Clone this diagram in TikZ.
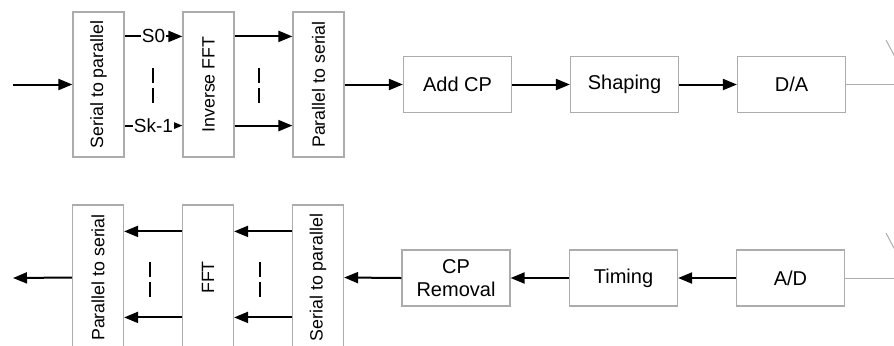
\documentclass[tikz,border=0pt]{standalone}
\usepackage{fontspec}
\setmainfont{Liberation Sans}
\usepackage{tikz}
\usetikzlibrary{arrows.meta, positioning}

\begin{document}
\begin{tikzpicture}[x=0.5pt, y=-0.5pt,
    block/.style={draw=gray!65, line width=0.6pt, minimum width=54pt, minimum height=28pt,
        align=center, inner sep=1pt, font=\fontsize{10}{11.5}\selectfont},
    vblock/.style={draw=gray!65, line width=0.6pt, minimum width=25.5pt, minimum height=72.5pt,
        inner sep=0pt, font=\fontsize{8.9}{10}\selectfont},
    sig/.style={-{Triangle[length=7pt, width=5.5pt]}, line width=1pt},
    wire/.style={gray!65, line width=0.5pt},
    gap/.style={line width=1.1pt, dash pattern=on 7.5pt off 2.5pt},
    tag/.style={fill=white, inner sep=0.5pt, font=\fontsize{9.5}{10}\selectfont}]

    \useasboundingbox (0,0) rectangle (894,345);
    \clip (0,0) rectangle (894,345);

    % Transmitter
    \node[vblock] (sp1)   at (98.5,84.5)  {\rotatebox{90}{Serial to parallel}};
    \node[vblock] (ifft)  at (208.5,84.5) {\rotatebox{90}{Inverse FFT}};
    \node[vblock] (ps1)   at (318.5,84.5) {\rotatebox{90}{Parallel to serial}};
    \node[block]  (addcp) at (457.5,84.5) {Add CP};
    \node[block]  (shape) at (624.5,84.5) {Shaping};
    \node[block]  (da)    at (791.5,84.5) {D/A};

    \coordinate (txin)  at (13,84.5);
    \coordinate (txant) at (894,84.5);

    \draw[sig] (txin) -- (sp1.west);
    \draw[sig] ([yshift=-12.5pt]sp1.north east) -- node[tag] {S0} ([yshift=-12.5pt]ifft.north west);
    \draw[sig] ([yshift=16pt]sp1.south east) -- node[tag] {Sk-1} ([yshift=16pt]ifft.south west);
    \draw[sig] ([yshift=-12.5pt]ifft.north east) -- ([yshift=-12.5pt]ps1.north west);
    \draw[sig] ([yshift=16pt]ifft.south east) -- ([yshift=16pt]ps1.south west);
    \draw[sig] (ps1.east) -- (addcp.west);
    \draw[sig] (addcp) -- (shape);
    \draw[sig] (shape) -- (da);
    \draw[wire] (da.east) -- (txant);
    \draw[wire] (886,40) -- (895,57);

    % Receiver
    \node[vblock] (ps2)    at (98,277.5)  {\rotatebox{90}{Parallel to serial}};
    \node[vblock] (fft)    at (208,277.5) {\rotatebox{90}{FFT}};
    \node[vblock] (sp2)    at (318,277.5) {\rotatebox{90}{Serial to parallel}};
    \node[block]  (cprem)  at (456,278)   {CP\\Removal};
    \node[block]  (timing) at (623.5,278) {Timing};
    \node[block]  (ad)     at (790.5,278) {A/D};

    \coordinate (rxout) at (13,278);
    \coordinate (rxant) at (894,278);

    \draw[wire] (ad.east) -- (rxant);
    \draw[wire] (886,233) -- (895,250);
    \draw[sig] (ad) -- (timing);
    \draw[sig] (timing) -- (cprem);
    \draw[sig] (cprem.west) -- (sp2.east);
    \draw[sig] ([yshift=-13.5pt]sp2.north west) -- ([yshift=-13.5pt]fft.north east);
    \draw[sig] ([yshift=-56.5pt]sp2.north west) -- ([yshift=-56.5pt]fft.north east);
    \draw[sig] ([yshift=-13.5pt]fft.north west) -- ([yshift=-13.5pt]ps2.north east);
    \draw[sig] ([yshift=-56.5pt]fft.north west) -- ([yshift=-56.5pt]ps2.north east);
    \draw[sig] (ps2.west) -- (rxout);

    % Skipped subcarriers
    \foreach \col in {153, 259} {
        \draw[gap] (\col,68) -- (\col,103);
    }
    \foreach \col in {150, 260} {
        \draw[gap] (\col,262) -- (\col,297);
    }
\end{tikzpicture}
\end{document}
